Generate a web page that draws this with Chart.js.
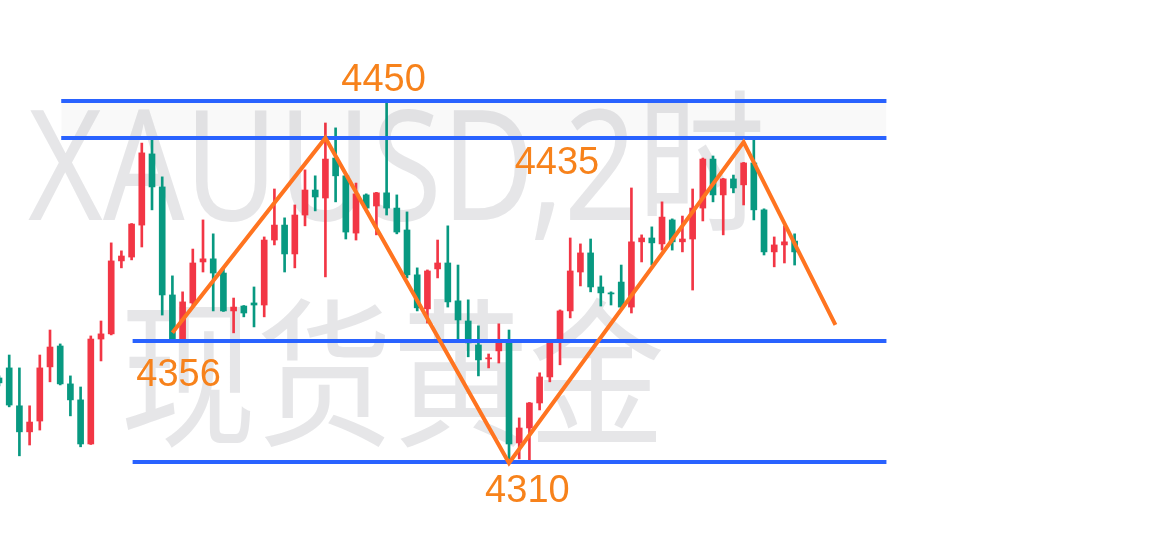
<!DOCTYPE html>
<html>
<head>
<meta charset="utf-8">
<script src="https://cdn.jsdelivr.net/npm/chart.js@4"></script>
<style>
  html, body { margin: 0; padding: 0; background: #fff; }
</style>
</head>
<body>
<canvas id="goldChart" width="1170" height="544"></canvas>
<script>
// XAUUSD 2h candles (index = candle number)
const opens = [4342.6,4346.5,4331.8,4321.7,4325.9,4346.9,4355.0,4340.3,4334.1,4317.0,
  4357.7,4359.7,4388.0,4389.5,4401.9,4429.5,4416.7,4374.8,4357.7,4371.7,
  4387.6,4388.8,4383.3,4368.6,4370.5,4371.7,4370.9,4396.1,4401.9,4390.7,
  4405.8,4415.5,4412.4,4427.9,4421.0,4398.8,4413.6,4409.3,4414.4,4408.5,
  4400.0,4382.6,4369.4,4384.9,4387.2,4372.5,4364.7,4355.4,4350.0,4353.1,
  4356.2,4317.4,4323.2,4332.9,4343.0,4357.3,4368.6,4383.7,4391.1,4377.9,
  4375.6,4379.8,4370.1,4395.4,4396.9,4394.6,4403.9,4395.4,4396.5,4408.5,
  4427.5,4413.6,4419.8,4417.5,4426.0,4407.8,4391.5,4394.2,4395.7];
const closes = [4340.7,4332.1,4321.7,4325.5,4346.5,4354.6,4340.3,4334.1,4317.0,4357.7,
  4359.7,4388.0,4389.9,4402.3,4429.9,4416.7,4374.8,4357.0,4372.1,4387.2,
  4388.8,4383.3,4368.6,4370.1,4367.8,4370.9,4396.1,4401.9,4390.7,4405.8,
  4415.5,4412.8,4427.5,4421.0,4399.2,4414.0,4408.5,4414.4,4408.5,4399.2,
  4382.6,4369.8,4384.1,4387.2,4372.1,4365.1,4356.2,4349.6,4350.4,4356.2,
  4317.0,4323.2,4332.9,4343.0,4356.2,4368.6,4384.1,4391.1,4377.9,4375.6,
  4375.2,4370.1,4395.4,4396.9,4395.0,4405.0,4395.4,4396.5,4408.5,4427.5,
  4413.6,4419.8,4416.3,4426.0,4407.8,4391.5,4394.2,4395.4,4391.5];
const highs = [4343.4,4351.5,4346.5,4331.8,4351.5,4361.2,4355.8,4343.4,4339.1,4358.9,
  4364.7,4395.0,4391.9,4402.5,4433.7,4434.9,4420.6,4382.2,4376.0,4392.6,
  4403.9,4398.5,4385.3,4373.6,4370.7,4377.9,4397.3,4415.9,4404.7,4409.7,
  4423.3,4421.0,4441.5,4439.6,4421.3,4418.2,4414.0,4414.6,4450.0,4413.6,
  4407.0,4385.3,4384.5,4396.1,4401.6,4386.4,4372.9,4362.8,4351.9,4363.6,
  4361.2,4327.1,4333.1,4344.6,4356.4,4369.0,4396.9,4394.6,4396.5,4382.2,
  4376.0,4386.4,4416.3,4398.1,4401.2,4410.9,4404.3,4405.4,4415.9,4427.9,
  4428.7,4420.0,4421.3,4426.2,4434.9,4408.2,4397.3,4401.6,4398.5];
const lows = [4339.5,4331.4,4312.4,4316.6,4322.4,4341.1,4339.9,4327.9,4315.9,4316.8,
  4349.2,4359.3,4385.3,4388.4,4393.4,4407.8,4367.0,4356.6,4357.0,4370.5,
  4383.7,4368.6,4368.4,4360.1,4366.3,4362.4,4366.3,4394.2,4383.7,4385.3,
  4401.6,4407.4,4381.8,4410.9,4396.5,4396.1,4408.3,4398.1,4405.8,4398.5,
  4381.4,4368.6,4363.9,4381.4,4370.1,4357.7,4350.8,4343.4,4346.5,4348.4,
  4311.2,4311.2,4310.8,4330.2,4341.1,4347.7,4365.9,4378.3,4376.0,4370.5,
  4370.9,4370.0,4367.8,4387.6,4386.4,4392.2,4392.2,4391.5,4376.7,4403.5,
  4410.9,4398.1,4414.4,4409.7,4403.9,4390.3,4385.7,4387.2,4386.4];

// horizontal levels drawn on the chart
const levelPrices = [4450, 4435.7, 4356.9, 4310];
const levelStart = [6.1, 6.1, 13.1, 13.1];
const levelEnd = 87;

// orange zigzag (candle index, price)
const zigIdx = [17, 32, 50, 73, 82];
const zigPrice = [4360.1, 4435.7, 4309.6, 4434.1, 4363.2];

// level tags (text, candle index of centre, baseline price)
const tagTexts = ['4450', '4435', '4356', '4310'];
const tagIdx = [37.7, 54.7, 17.6, 51.8];
const tagPrice = [4453.9, 4421.7, 4339.5, 4294.5];

const upColor = '#f23645';
const downColor = '#089981';
const levelColor = '#2962ff';
const zigColor = '#ff7420';

const idx = opens.map((_, i) => i);
const colorOf = (i) => closes[i] >= opens[i] ? upColor : downColor;

const levelSets = levelPrices.map((p, k) => ({
  type: 'line',
  data: [{ x: levelStart[k], y: p }, { x: levelEnd, y: p }],
  borderColor: levelColor,
  borderWidth: 4,
  pointRadius: 0,
  fill: k === 1 ? '-1' : false,
  backgroundColor: 'rgba(0,0,0,0.022)',
  order: 1
}));

const watermark = {
  id: 'watermark',
  beforeDatasetsDraw(chart) {
    const c = chart.ctx;
    c.save();
    c.fillStyle = 'rgba(140,140,152,0.22)';
    drawFit(c, 'XAUUSD,2时', 28, 220, 154, 737);
    drawFit(c, '现货黄金', 120, 434, 160, 545);
    c.restore();
  }
};

function drawFit(c, text, x, y, size, width) {
  c.font = size + 'px "Noto Sans", "Noto Sans CJK SC", sans-serif';
  const w = c.measureText(text).width;
  c.save();
  c.translate(x, y);
  c.scale(width / w, 1);
  c.fillText(text, 0, 0);
  c.restore();
}

const tags = {
  id: 'tags',
  afterDatasetsDraw(chart) {
    const c = chart.ctx;
    const xs = chart.scales.x, ys = chart.scales.y;
    c.save();
    c.fillStyle = '#f7821b';
    c.font = '38px "Liberation Sans", Arial, sans-serif';
    c.textAlign = 'center';
    c.textBaseline = 'alphabetic';
    tagTexts.forEach((t, k) => {
      c.fillText(t, xs.getPixelForValue(tagIdx[k]), ys.getPixelForValue(tagPrice[k]));
    });
    c.restore();
  }
};

const ctx = document.getElementById('goldChart').getContext('2d');
const chart = new Chart(ctx, {
  type: 'bar',
  data: {
    datasets: [
      {
        type: 'line',
        data: zigIdx.map((x, i) => ({ x: x, y: zigPrice[i] })),
        borderColor: zigColor,
        borderWidth: 4,
        pointRadius: 0,
        tension: 0,
        order: 0
      },
      ...levelSets,
      {
        data: idx.map(i => ({ x: i, y: [opens[i], closes[i]] })),
        backgroundColor: idx.map(colorOf),
        barThickness: 6,
        minBarLength: 1,
        grouped: false,
        order: 2
      },
      {
        data: idx.map(i => ({ x: i, y: [lows[i], highs[i]] })),
        backgroundColor: idx.map(colorOf),
        barThickness: 2,
        grouped: false,
        order: 3
      }
    ]
  },
  options: {
    responsive: false,
    animation: false,
    layout: { padding: 0 },
    plugins: { legend: { display: false }, tooltip: { enabled: false } },
    scales: {
      x: { type: 'linear', display: false, offset: false, min: 0.098, max: 114.8 },
      y: { type: 'linear', display: false, min: 4278.2, max: 4489.2 }
    }
  },
  plugins: [watermark, tags]
});
</script>
</body>
</html>
